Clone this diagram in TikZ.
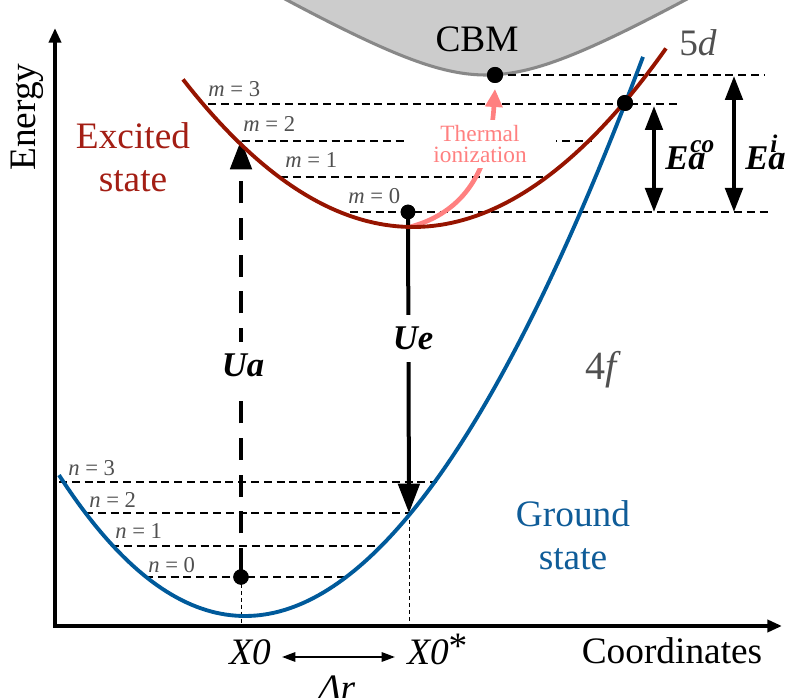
\documentclass[tikz,border=0pt]{standalone}
\usepackage{fontspec}
\usepackage{amsmath}
\setmainfont{Liberation Serif}
\usetikzlibrary{arrows.meta}
\definecolor{curvered}{RGB}{150,20,0}
\definecolor{textred}{RGB}{163,30,20}
\definecolor{curveblue}{RGB}{0,90,155}
\definecolor{textblue}{RGB}{15,92,152}
\definecolor{pinkc}{RGB}{255,128,128}
\definecolor{cbmfill}{RGB}{204,204,204}
\definecolor{cbmedge}{RGB}{136,136,136}
\definecolor{labgray}{RGB}{80,80,80}
\newcommand{\bigfont}{\fontsize{28}{32}\selectfont}
\newcommand{\levfont}{\fontsize{17}{17}\selectfont}
\newcommand{\bfit}[1]{\textbf{\textit{#1}}}
\newcommand{\Elabel}[1]{\bfit{E}\rlap{\kern1.5pt\raisebox{13pt}{\fontsize{19}{19}\selectfont\bfit{#1}}}\bfit{a}}
\begin{document}
\begin{tikzpicture}[x=0.75pt,y=-0.75pt,
  lvline/.style={line width=1.1pt, dash pattern=on 6pt off 3.6pt},
  guideline/.style={line width=0.75pt, dash pattern=on 3pt off 2.2pt},
  pdot/.style={circle, fill=black, inner sep=0pt, minimum size=#1},
  pdot/.default=12pt,
  levlab/.style={anchor=base west, inner sep=0pt, text=labgray, font=\levfont},
  transarrow/.style={line width=3pt, -{Triangle[length=22pt,width=16pt]}},
  ebar/.style={line width=3pt, {Triangle[length=18pt,width=13pt]}-{Triangle[length=18pt,width=13pt]}},
  bigtext/.style={font=\bigfont},
  ulab/.style={font=\fontsize{26}{26}\selectfont, fill=white, anchor=base, inner xsep=2pt, inner ysep=9pt},
  curveline/.style={line width=2.9pt},
]
\useasboundingbox (0,0) rectangle (786,698);

% conduction band
\draw[cbmedge, line width=2.3pt, fill=cbmfill] plot[domain=268:704, samples=80] (\x,{75-52.5*(sqrt(1+((\x-486)/90)^2)-1)}) -- (704,-30) -- (268,-30) -- cycle;

% axes
\coordinate (ytop) at (55,28);
\coordinate (O) at (55,626);
\coordinate (xend) at (782,626);
\draw[line width=2.8pt, {Triangle[length=11pt,width=9pt]}-{Triangle[length=11pt,width=9pt]}] (ytop) -- (O) -- (xend);

% dots (nodes)
\node[pdot=12pt] (cbm) at (495,75) {};
\node[pdot=12pt] (cross) at (625,103) {};
\node[pdot=11pt] (m0) at (408,212) {};
\node[pdot=11.5pt] (n0) at (241,577) {};

% level lines
\coordinate (cbmR) at (765,75);
\coordinate (m3L) at (208,104); \coordinate (m3R) at (680,104);
\coordinate (m2L) at (242,141); \coordinate (m2R) at (592,141);
\coordinate (m1L) at (280,177); \coordinate (m1R) at (543,177);
\coordinate (m0L) at (350,212); \coordinate (m0R) at (768,212);
\coordinate (n3L) at (59,482);  \coordinate (n3R) at (437,482);
\coordinate (n2L) at (85,513);  \coordinate (n2R) at (410,513);
\coordinate (n1L) at (111,546); \coordinate (n1R) at (380,546);
\coordinate (n0L) at (145,577); \coordinate (n0R) at (345,577);
\draw[lvline] (cbm.center) -- (cbmR);
\draw[lvline] (m3L) -- (m3R);
\draw[lvline] (m2L) -- (m2R);
\draw[lvline] (m1L) -- (m1R);
\draw[lvline] (m0L) -- (m0R);
\draw[lvline] (n3L) -- (n3R);
\draw[lvline] (n2L) -- (n2R);
\draw[lvline] (n1L) -- (n1R);
\draw[lvline] (n0L) -- (n0R);

% guides to axis
\coordinate (x0ax) at (241,626);
\coordinate (uetip) at (409,513);
\coordinate (x0sax) at (409,626);
\draw[guideline] (n0.center) -- (x0ax);
\draw[guideline] (uetip) -- (x0sax);

% thermal ionization
\coordinate (thstart) at (410,227);
\coordinate (thtip) at (495,89);
\draw[pinkc, line width=3.5pt, -{Triangle[length=13.5pt,width=12.5pt]}] (thstart) .. controls (465,212) and (490,170) .. (thtip);
\node[fill=white, inner sep=0pt, minimum width=114pt, minimum height=36pt, align=center, text=pinkc, font=\fontsize{17.5}{16}\selectfont] (thermal) at (480,144) {Thermal\\ionization};

% transitions
\coordinate (uastart) at (241,570);
\coordinate (uatip) at (241,140);
\draw[transarrow, dash pattern=on 16.5pt off 11pt] (uastart) -- (uatip);
\draw[transarrow] (m0.center) -- (uetip);
\node[ulab] (ua) at (243,377) {\bfit{Ua}};
\node[ulab] (ue) at (413,350) {\bfit{Ue}};

% curves
\draw[curveblue, curveline] plot[domain=59:643, samples=120] (\x,{616-39*((\x-245)/100)^2+0.93*((\x-245)/100)^3});
\draw[curvered, curveline] plot[domain=183:666, samples=80] (\x,{227-27.9*((\x-413)/100)^2});

% redraw dots on top
\node[pdot=12pt] at (cbm) {};
\node[pdot=12pt] at (cross) {};
\node[pdot=11pt] at (m0) {};
\node[pdot=11.5pt] at (n0) {};

% activation energies
\coordinate (ecoT) at (654,106); \coordinate (ecoB) at (654,212);
\coordinate (eiT) at (734,76);  \coordinate (eiB) at (734,212);
\draw[ebar] (ecoT) -- (ecoB);
\draw[ebar] (eiT) -- (eiB);
\node[font=\fontsize{26}{26}\selectfont, anchor=base west, inner sep=0pt] (eco) at (665,170) {\Elabel{co}};
\node[font=\fontsize{26}{26}\selectfont, anchor=base west, inner sep=0pt] (ei) at (745,170) {\Elabel{i}};

% level labels
\node[levlab] (lm3) at (208,97) {\textit{m} = 3};
\node[levlab] (lm2) at (243,132) {\textit{m} = 2};
\node[levlab] (lm1) at (285,168) {\textit{m} = 1};
\node[levlab] (lm0) at (348,204) {\textit{m} = 0};
\node[levlab] (ln3) at (68,476) {\textit{n} = 3};
\node[levlab] (ln2) at (89,508) {\textit{n} = 2};
\node[levlab] (ln1) at (115,539) {\textit{n} = 1};
\node[levlab] (ln0) at (148,572) {\textit{n} = 0};

% texts
\node[bigtext, anchor=base] (cbmtext) at (477,52) {CBM};
\node[bigtext, anchor=base, text=labgray] (fived) at (698,56) {5\textit{d}};
\node[font=\fontsize{30}{30}\selectfont, anchor=base, text=labgray] (fourf) at (603,380) {4\textit{f}};
\node[bigtext, rotate=90, anchor=base] (energy) at (36,117) {Energy};
\node[bigtext, text=textred, align=center] (excited) at (133,157) {Excited\\state};
\node[bigtext, text=textblue, align=center] (ground) at (573,535) {Ground\\state};
\node[bigtext, anchor=base] (coord) at (672,663) {Coordinates};
\node[bigtext, anchor=base] (x0) at (250,664) {\textit{X0}};
\node[bigtext, anchor=base west, inner sep=0pt] (x0s) at (407,664) {\textit{X0}\raisebox{4pt}{*}};
\node[bigtext, anchor=base] (dr) at (337,700) {\textit{Δr}};
\coordinate (drL) at (282,657);
\coordinate (drR) at (395,657);
\draw[line width=1.5pt, {Triangle[length=10pt,width=7pt]}-{Triangle[length=10pt,width=7pt]}] (drL) -- (drR);
\end{tikzpicture}
\end{document}
